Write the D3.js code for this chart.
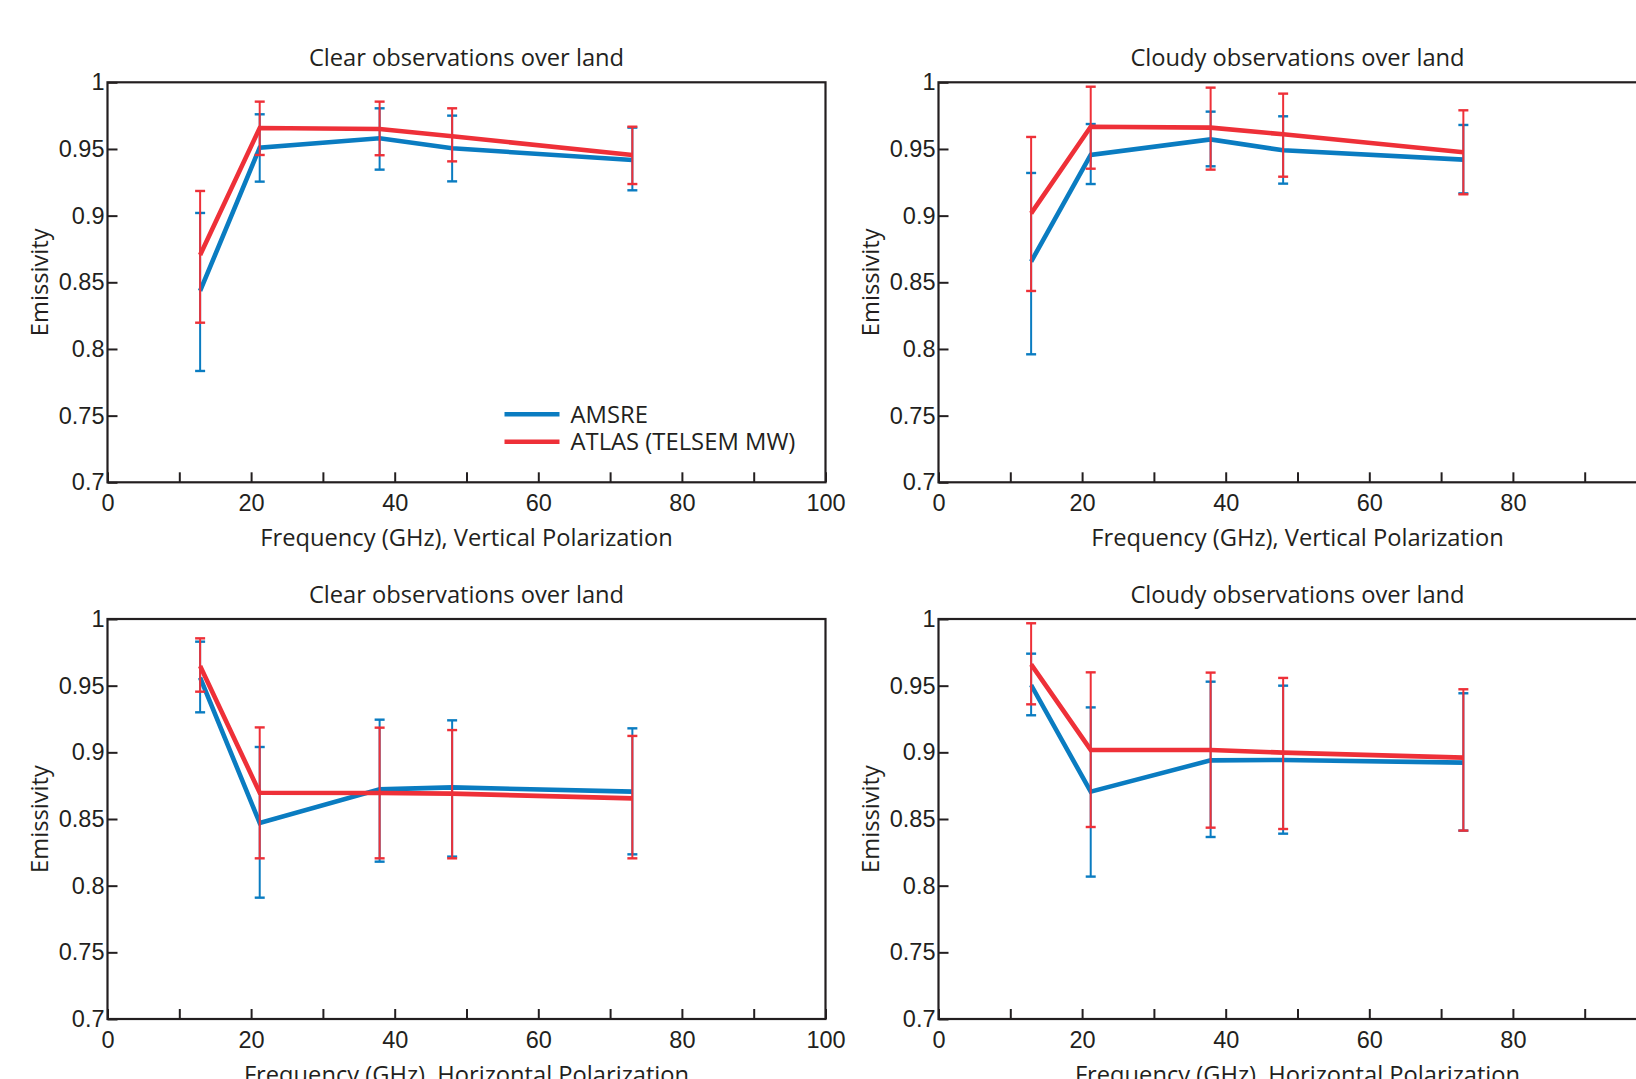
<!DOCTYPE html>
<html>
<head>
<meta charset="utf-8">
<script src="https://cdn.jsdelivr.net/npm/d3@7"></script>
<style>
  html, body { margin: 0; padding: 0; background: #fff; overflow: hidden; }
  svg { display: block; font-family: "Open Sans", "Noto Sans", sans-serif; }
  .axis text { fill: #231f20; font-size: 23.5px; }
  .axis line { stroke: #231f20; stroke-width: 2; }
  .axis .domain { display: none; }
  .ttl, .lbl { fill: #231f20; font-size: 23.7px; }
  .leg { fill: #231f20; font-size: 23.8px; }
</style>
</head>
<body>
<svg id="chart" width="1636" height="1079"></svg>
<script>
// Channel frequencies (GHz)
const freqs = [12.9, 21.2, 37.9, 48.0, 73.1];

// Axis ticks
const xTickValues = [0, 10, 20, 30, 40, 50, 60, 70, 80, 90, 100];
const xTickLabels = [0, 20, 40, 60, 80, 100];
const yTickValues = [0.7, 0.75, 0.8, 0.85, 0.9, 0.95, 1];

const seriesNames = ["AMSRE", "ATLAS (TELSEM MW)"];

// Clear sky, vertical polarization
const clearV_amsre   = [0.8435, 0.951, 0.958, 0.9505, 0.9417];
const clearV_amsreLo = [0.7835, 0.9255, 0.9345, 0.9257, 0.919];
const clearV_amsreHi = [0.902, 0.976, 0.9805, 0.975, 0.966];
const clearV_atlas   = [0.8705, 0.9657, 0.965, 0.9595, 0.9455];
const clearV_atlasLo = [0.8197, 0.9455, 0.9453, 0.9407, 0.9237];
const clearV_atlasHi = [0.9185, 0.9855, 0.9855, 0.9805, 0.9667];

// Cloudy sky, vertical polarization
const cloudyV_amsre   = [0.8655, 0.9455, 0.9572, 0.949, 0.942];
const cloudyV_amsreLo = [0.796, 0.9237, 0.937, 0.924, 0.9167];
const cloudyV_amsreHi = [0.932, 0.9687, 0.978, 0.9745, 0.968];
const cloudyV_atlas   = [0.9017, 0.9667, 0.966, 0.961, 0.9475];
const cloudyV_atlasLo = [0.8435, 0.9352, 0.9345, 0.9292, 0.916];
const cloudyV_atlasHi = [0.959, 0.9967, 0.996, 0.9915, 0.979];

// Clear sky, horizontal polarization
const clearH_amsre   = [0.956, 0.847, 0.8722, 0.8737, 0.8705];
const clearH_amsreLo = [0.930, 0.791, 0.818, 0.8218, 0.8235];
const clearH_amsreHi = [0.983, 0.904, 0.9245, 0.924, 0.918];
const clearH_atlas   = [0.9647, 0.8697, 0.8695, 0.869, 0.8655];
const clearH_atlasLo = [0.9455, 0.8205, 0.8205, 0.8205, 0.8205];
const clearH_atlasHi = [0.9855, 0.9187, 0.9185, 0.9167, 0.9123];

// Cloudy sky, horizontal polarization
const cloudyH_amsre   = [0.9505, 0.8705, 0.894, 0.8943, 0.8923];
const cloudyH_amsreLo = [0.9278, 0.8068, 0.8365, 0.839, 0.8413];
const cloudyH_amsreHi = [0.974, 0.9337, 0.953, 0.95, 0.9443];
const cloudyH_atlas   = [0.966, 0.9018, 0.9018, 0.8998, 0.896];
const cloudyH_atlasLo = [0.936, 0.844, 0.8435, 0.8425, 0.8413];
const cloudyH_atlasHi = [0.9968, 0.96, 0.9598, 0.9558, 0.9473];

const colors = ["#0a7cc1", "#ee3038"];

const panels = [
  { title: "Clear observations over land", xlabel: "Frequency (GHz), Vertical Polarization",
    left: 107.5, top: 82.3, legend: true,
    series: [[clearV_amsre, clearV_amsreLo, clearV_amsreHi], [clearV_atlas, clearV_atlasLo, clearV_atlasHi]] },
  { title: "Cloudy observations over land", xlabel: "Frequency (GHz), Vertical Polarization",
    left: 938.5, top: 82.3, legend: false,
    series: [[cloudyV_amsre, cloudyV_amsreLo, cloudyV_amsreHi], [cloudyV_atlas, cloudyV_atlasLo, cloudyV_atlasHi]] },
  { title: "Clear observations over land", xlabel: "Frequency (GHz), Horizontal Polarization",
    left: 107.5, top: 619, legend: false,
    series: [[clearH_amsre, clearH_amsreLo, clearH_amsreHi], [clearH_atlas, clearH_atlasLo, clearH_atlasHi]] },
  { title: "Cloudy observations over land", xlabel: "Frequency (GHz), Horizontal Polarization",
    left: 938.5, top: 619, legend: false,
    series: [[cloudyH_amsre, cloudyH_amsreLo, cloudyH_amsreHi], [cloudyH_atlas, cloudyH_atlasLo, cloudyH_atlasHi]] }
];

const W = 718, H = 400;
const svg = d3.select("#chart");

const x = d3.scaleLinear().domain([0, 100]).range([0, W]);
const y = d3.scaleLinear().domain([0.7, 1]).range([H, 0]);

panels.forEach(p => {
  const g = svg.append("g").attr("transform", `translate(${p.left},${p.top})`);

  // x axis: ticks every 10, labels every 20, ticks pointing inward
  g.append("g").attr("class", "axis")
    .attr("transform", `translate(0,${H})`)
    .call(d3.axisBottom(x).tickValues(xTickValues).tickSize(-10).tickPadding(12)
      .tickFormat(d => xTickLabels.includes(d) ? d : ""));

  // y axis
  g.append("g").attr("class", "axis")
    .call(d3.axisLeft(y).tickValues(yTickValues).tickSize(-10).tickPadding(3)
      .tickFormat(d => String(d)));

  // frame
  g.append("rect").attr("x", 0).attr("y", 0).attr("width", W).attr("height", H)
    .attr("fill", "none").attr("stroke", "#231f20").attr("stroke-width", 2.2);

  g.append("text").attr("class", "ttl").attr("x", W / 2).attr("y", -16)
    .attr("text-anchor", "middle").text(p.title);
  g.append("text").attr("class", "lbl").attr("x", W / 2).attr("y", H + 64)
    .attr("text-anchor", "middle").text(p.xlabel);
  g.append("text").attr("class", "lbl")
    .attr("transform", `translate(-60,${H / 2}) rotate(-90)`)
    .attr("text-anchor", "middle").text("Emissivity");

  const line = d3.line().x((d, i) => x(freqs[i])).y(d => y(d));

  p.series.forEach(([mean, lo, hi], si) => {
    const c = colors[si];
    const eb = g.append("g").attr("stroke", c).attr("fill", "none");
    freqs.forEach((f, i) => {
      const cx = x(f);
      eb.append("line").attr("x1", cx).attr("x2", cx).attr("y1", y(lo[i])).attr("y2", y(hi[i]))
        .attr("stroke-width", 2);
      [lo[i], hi[i]].forEach(v => {
        eb.append("line").attr("x1", cx - 5).attr("x2", cx + 5).attr("y1", y(v)).attr("y2", y(v))
          .attr("stroke-width", 2.4);
      });
    });
    g.append("path").datum(mean).attr("d", line)
      .attr("fill", "none").attr("stroke", c).attr("stroke-width", 4.6)
      .attr("stroke-linejoin", "miter");
  });

  if (p.legend) {
    const lg = g.append("g").attr("transform", `translate(397,332)`);
    seriesNames.forEach((n, i) => {
      const yy = i * 27.4;
      lg.append("line").attr("x1", 0).attr("x2", 55).attr("y1", yy).attr("y2", yy)
        .attr("stroke", colors[i]).attr("stroke-width", 4.6);
      lg.append("text").attr("class", "leg").attr("x", 66).attr("y", yy)
        .attr("dy", "0.35em").text(n);
    });
  }
});
</script>
</body>
</html>
